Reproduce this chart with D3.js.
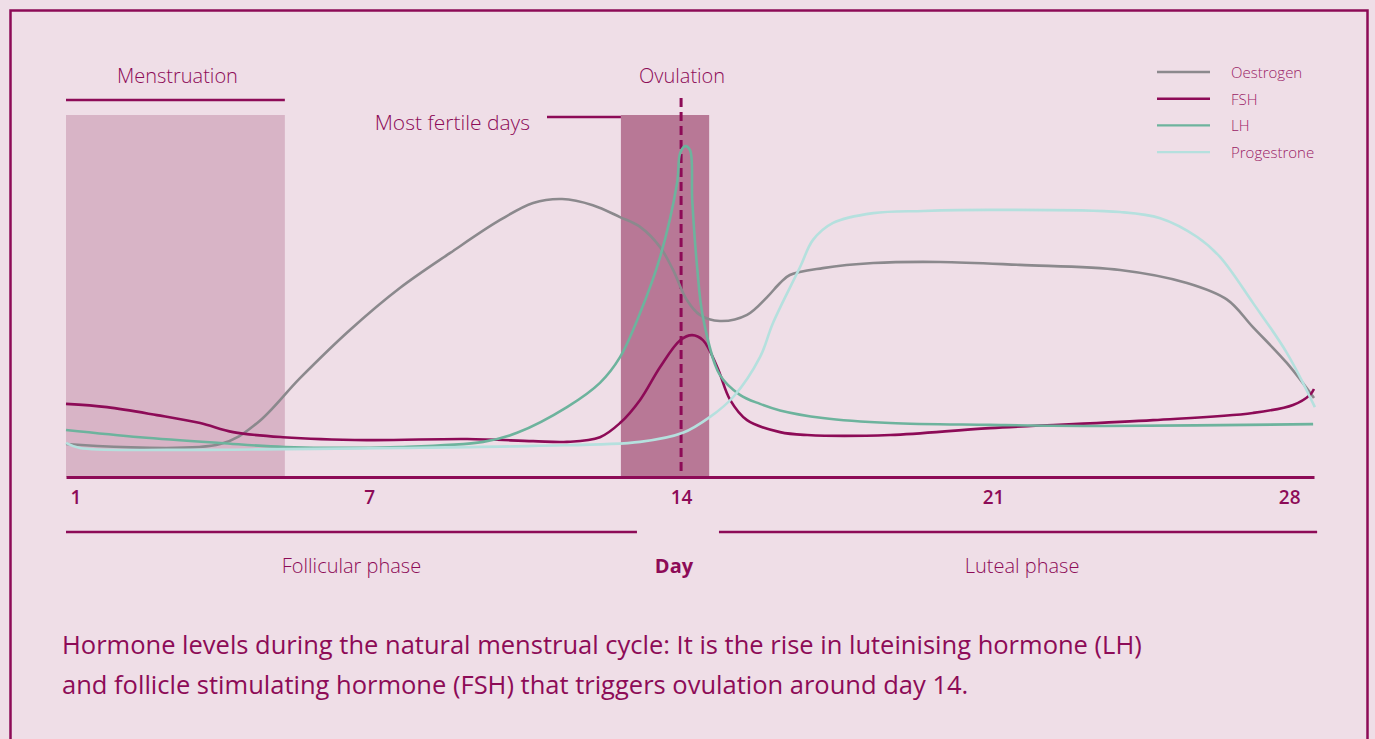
<!DOCTYPE html>
<html>
<head>
<meta charset="utf-8">
<script src="https://cdn.jsdelivr.net/npm/d3@7/dist/d3.min.js"></script>
<style>
  body { margin: 0; background: #efdee7; }
  svg { display: block; font-family: "Open Sans", sans-serif; }
</style>
</head>
<body>
<div id="chart"></div>
<script>
// Data (days of cycle / relative hormone level 0-100)
var oestrogenDays = [0.2, 3.66, 4.49, 5.45, 6.57, 7.69, 8.82, 9.94, 10.68, 11.33, 12.02, 12.63, 13.08, 13.53, 13.82, 14.13, 14.42, 14.87, 15.48, 15.93, 16.22, 16.44, 17.18, 18.31, 19.81, 21.6, 23.85, 25.35, 26.25, 26.83, 27.59, 28.2];
var oestrogenLevels = [9.1, 9.1, 14.9, 27.3, 40.6, 52.2, 61.9, 71.0, 75.7, 76.8, 75.1, 71.8, 69.1, 63.5, 57.2, 48.9, 44.8, 43.1, 44.8, 49.7, 53.6, 55.8, 57.7, 59.1, 59.4, 58.6, 57.2, 53.6, 49.0, 41.4, 31.5, 21.8];

var fshDays = [0.2, 1.12, 2.24, 3.21, 3.95, 5.07, 6.95, 9.2, 10.68, 11.44, 12.18, 12.63, 13.08, 13.53, 13.98, 14.25, 14.49, 14.81, 15.1, 15.48, 16.22, 16.83, 18.69, 20.93, 24.59, 26.83, 27.73, 28.11, 28.2];
var fshLevels = [20.2, 19.3, 17.1, 14.9, 12.4, 11.0, 10.2, 10.5, 9.9, 9.7, 11.0, 14.9, 21.3, 30.4, 37.8, 39.2, 37.8, 30.4, 21.3, 15.7, 12.4, 11.6, 11.6, 13.5, 15.7, 17.7, 19.9, 22.7, 24.3];

var lhDays = [0.2, 1.86, 3.66, 5.11, 7.69, 9.56, 10.32, 11.44, 12.18, 12.63, 13.08, 13.53, 13.91, 13.98, 14.09, 14.2, 14.25, 14.36, 14.49, 14.87, 15.32, 15.77, 16.22, 17.18, 18.69, 20.93, 23.4, 28.18];
var lhLevels = [13.0, 11.0, 9.4, 8.3, 8.3, 9.7, 12.2, 19.3, 26.0, 33.1, 45.3, 60.8, 81.2, 89.5, 91.4, 90.3, 76.5, 58.0, 44.2, 28.2, 22.7, 20.2, 18.4, 16.3, 14.9, 14.4, 14.1, 14.6];

var progDays = [0.2, 0.51, 2.6, 5.11, 7.69, 10.68, 13.08, 14.04, 14.65, 15.17, 15.77, 16.06, 16.67, 16.96, 17.41, 18.31, 19.43, 20.93, 23.85, 24.75, 25.58, 26.09, 26.83, 27.59, 28.22];
var progLevels = [9.4, 8.0, 7.5, 7.7, 8.0, 8.6, 9.7, 12.2, 16.6, 22.1, 33.1, 42.5, 58.0, 65.5, 70.2, 72.9, 73.5, 73.8, 73.2, 71.5, 66.3, 60.8, 48.1, 34.3, 19.3];

var seriesNames = ["Oestrogen", "FSH", "LH", "Progestrone"];
var tickDays = [1, 7, 14, 21, 28];
var menstruationDays = [0.2, 5.11];
var fertileDays = [12.65, 14.63];
var ovulationDay = 14;
var follicularDays = [0.2, 13.01];
var lutealDays = [14.85, 28.27];
var captionLines = [
  "Hormone levels during the natural menstrual cycle: It is the rise in luteinising hormone (LH)",
  "and follicle stimulating hormone (FSH) that triggers ovulation around day 14."
];

// Colours
var magenta = "#8d0b57";
var colors = ["#8b898d", "#8d0b57", "#6db39d", "#b5e0de"];

var svgWidth = 1375;
var svgHeight = 739;

var svg = d3.select("#chart")
  .append("svg")
  .attr("width", svgWidth)
  .attr("height", svgHeight);

// Frame
svg.append("rect")
  .attr("x", 10.5)
  .attr("y", 10.5)
  .attr("width", 1357)
  .attr("height", 760)
  .attr("fill", "#efdee7")
  .attr("stroke", magenta)
  .attr("stroke-width", 2.5);

// Scales
var x = d3.scaleLinear().domain([0.2, 28.2]).range([66, 1314]);
var y = d3.scaleLinear().domain([0, 100]).range([477, 115]);

// Shaded periods
svg.append("rect")
  .attr("x", x(menstruationDays[0]))
  .attr("y", y(100))
  .attr("width", x(menstruationDays[1]) - x(menstruationDays[0]))
  .attr("height", y(0) - y(100))
  .attr("fill", "#d8b4c6");

svg.append("rect")
  .attr("x", x(fertileDays[0]))
  .attr("y", y(100))
  .attr("width", x(fertileDays[1]) - x(fertileDays[0]))
  .attr("height", y(0) - y(100))
  .attr("fill", "#b87896");

// Menstruation label
svg.append("line")
  .attr("x1", x(menstruationDays[0])).attr("x2", x(menstruationDays[1]))
  .attr("y1", 100).attr("y2", 100)
  .attr("stroke", magenta).attr("stroke-width", 2.5);

svg.append("text")
  .attr("x", (x(menstruationDays[0]) + x(menstruationDays[1])) / 2 + 2)
  .attr("y", 83)
  .attr("text-anchor", "middle")
  .attr("font-size", "20px")
  .attr("font-weight", 300)
  .attr("fill", magenta)
  .text("Menstruation");

// Most fertile days label
svg.append("line")
  .attr("x1", 547).attr("x2", x(fertileDays[0]))
  .attr("y1", 117).attr("y2", 117)
  .attr("stroke", magenta).attr("stroke-width", 2.5);

svg.append("text")
  .attr("x", 530)
  .attr("y", 130)
  .attr("text-anchor", "end")
  .attr("font-size", "21px")
  .attr("font-weight", 300)
  .attr("fill", magenta)
  .text("Most fertile days");

// Ovulation
svg.append("line")
  .attr("x1", x(ovulationDay)).attr("x2", x(ovulationDay))
  .attr("y1", 98).attr("y2", y(0))
  .attr("stroke", magenta)
  .attr("stroke-width", 3)
  .attr("stroke-dasharray", "9,5");

svg.append("text")
  .attr("x", x(ovulationDay) + 1)
  .attr("y", 83)
  .attr("text-anchor", "middle")
  .attr("font-size", "20px")
  .attr("font-weight", 300)
  .attr("fill", magenta)
  .text("Ovulation");

// Hormone curves
var line = d3.line()
  .x(d => x(d[0]))
  .y(d => y(d[1]))
  .curve(d3.curveCatmullRom.alpha(0.5));

var series = [
  d3.zip(oestrogenDays, oestrogenLevels),
  d3.zip(fshDays, fshLevels),
  d3.zip(lhDays, lhLevels),
  d3.zip(progDays, progLevels)
];

svg.selectAll("path.hormone")
  .data(series)
  .enter()
  .append("path")
  .classed("hormone", true)
  .attr("d", line)
  .attr("fill", "none")
  .attr("stroke", (d, i) => colors[i])
  .attr("stroke-width", 2.6);

// Day axis
var bottomAxis = d3.axisBottom(x)
  .tickValues(tickDays)
  .tickSize(0)
  .tickPadding(14)
  .tickFormat(d3.format("d"));

var axisG = svg.append("g")
  .attr("transform", `translate(0, ${y(0)})`)
  .call(bottomAxis);

axisG.select(".domain")
  .attr("stroke", magenta)
  .attr("stroke-width", 3);

axisG.selectAll("text")
  .attr("fill", magenta)
  .attr("font-family", "Open Sans")
  .attr("font-size", "19px")
  .attr("font-weight", 600)
  .each(function(d, i) {
    if (i === 0) {
      d3.select(this).attr("text-anchor", "start").attr("x", x.range()[0] + 4 - x(d));
    } else if (i === tickDays.length - 1) {
      d3.select(this).attr("text-anchor", "end").attr("x", x.range()[1] - 14 - x(d));
    }
  });

// Phase lines and labels
var phases = [
  { days: follicularDays, label: "Follicular phase" },
  { days: lutealDays, label: "Luteal phase" }
];

svg.selectAll("line.phase")
  .data(phases)
  .enter()
  .append("line")
  .classed("phase", true)
  .attr("x1", d => x(d.days[0]))
  .attr("x2", d => x(d.days[1]))
  .attr("y1", 532).attr("y2", 532)
  .attr("stroke", magenta)
  .attr("stroke-width", 2.5);

svg.selectAll("text.phase")
  .data(phases)
  .enter()
  .append("text")
  .classed("phase", true)
  .attr("x", (d, i) => (x(d.days[0]) + x(d.days[1])) / 2 + (i ? 4 : 0))
  .attr("y", 573)
  .attr("text-anchor", "middle")
  .attr("font-size", "20px")
  .attr("font-weight", 300)
  .attr("fill", magenta)
  .text(d => d.label);

svg.append("text")
  .attr("x", (x(follicularDays[1]) + x(lutealDays[0])) / 2 - 4)
  .attr("y", 573)
  .attr("text-anchor", "middle")
  .attr("font-size", "20px")
  .attr("font-weight", 700)
  .attr("fill", magenta)
  .text("Day");

// Legend
var legend = svg.selectAll("g.legend")
  .data(seriesNames)
  .enter()
  .append("g")
  .classed("legend", true)
  .attr("transform", (d, i) => `translate(1157, ${72 + i * 26.7})`);

legend.append("line")
  .attr("x1", 0).attr("x2", 53)
  .attr("stroke", (d, i) => colors[i])
  .attr("stroke-width", 2.4);

legend.append("text")
  .attr("x", 74)
  .attr("y", 6)
  .attr("font-size", "15px")
  .attr("font-weight", 300)
  .attr("fill", "#9a2266")
  .text(d => d);

// Caption
svg.selectAll("text.caption")
  .data(captionLines)
  .enter()
  .append("text")
  .classed("caption", true)
  .attr("x", 62)
  .attr("y", (d, i) => 654 + i * 40)
  .attr("font-size", "25.5px")
  .attr("fill", magenta)
  .text(d => d);
</script>
</body>
</html>
